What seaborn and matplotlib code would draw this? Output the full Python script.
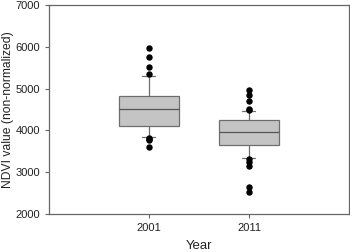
import pandas as pd
import numpy as np
import matplotlib.pyplot as plt
import seaborn as sns

years = ['2001', '2011']

ndvi_2001 = [3610, 3770, 3800, 3825,
             3850,
             3900, 3950, 4000, 4040, 4080,
             4105,
             4150, 4200, 4250, 4300, 4350, 4400, 4430, 4460, 4490,
             4520,
             4550, 4580, 4610, 4640, 4670, 4700, 4740, 4780, 4810,
             4830,
             4900, 5000, 5080, 5150, 5220,
             5290,
             5345, 5525, 5750, 5980]

ndvi_2011 = [2530, 2640, 3155, 3250, 3320,
             3345,
             3400, 3450, 3500, 3540, 3580, 3610,
             3640, 3640,
             3670, 3700, 3730, 3760, 3790, 3820, 3850, 3870, 3890, 3910, 3930,
             3950,
             3970, 3990, 4010, 4030, 4060, 4090, 4120, 4150, 4180, 4210, 4240,
             4260, 4260,
             4290, 4320, 4350, 4390, 4420, 4450,
             4470,
             4490, 4500, 4710, 4840, 4970]

df = pd.DataFrame({
    'Year': [years[0]] * len(ndvi_2001) + [years[1]] * len(ndvi_2011),
    'NDVI': ndvi_2001 + ndvi_2011,
})

sns.set_style('white')
plt.rcParams['font.family'] = ['Liberation Sans', 'DejaVu Sans']

fig = plt.figure(figsize=(3.5, 2.52), dpi=100)
ax = fig.add_axes([0.14, 0.151, 0.857, 0.829])

sns.boxplot(data=df, x='Year', y='NDVI', order=years, ax=ax,
            whis=(10, 90), width=0.6, color='#c4c4c4', linecolor='#6e6e6e',
            linewidth=0.9, saturation=1,
            flierprops=dict(marker='o', markerfacecolor='black',
                            markeredgecolor='black', markersize=3.6),
            medianprops=dict(color='#555555', linewidth=0.9))

# shorten the whisker caps
for ln in ax.lines:
    xd = np.asarray(ln.get_xdata(), dtype=float)
    yd = np.asarray(ln.get_ydata(), dtype=float)
    if len(xd) == 2 and yd[0] == yd[1] and abs(xd[1] - xd[0]) < 0.5:
        c = xd.mean()
        ln.set_xdata([c - 0.065, c + 0.065])

ax.set_xlim(-1, 2)
ax.set_ylim(2000, 7000)
ax.set_yticks(np.arange(2000, 7001, 1000))
ax.set_xlabel('Year', fontsize=9.5, color='#222222')
ax.set_ylabel('NDVI value (non-normalized)', fontsize=8.7, color='#222222')
ax.yaxis.set_label_coords(-0.117, 0.5)
ax.xaxis.set_label_coords(0.5, -0.125)
ax.tick_params(axis='both', labelsize=8, length=3, width=0.8,
               color='#666666', labelcolor='#222222', direction='out',
               bottom=True, left=True)
for s in ax.spines.values():
    s.set_color('#666666')
    s.set_linewidth(0.9)

plt.savefig('out.png', dpi=100)
plt.close()
